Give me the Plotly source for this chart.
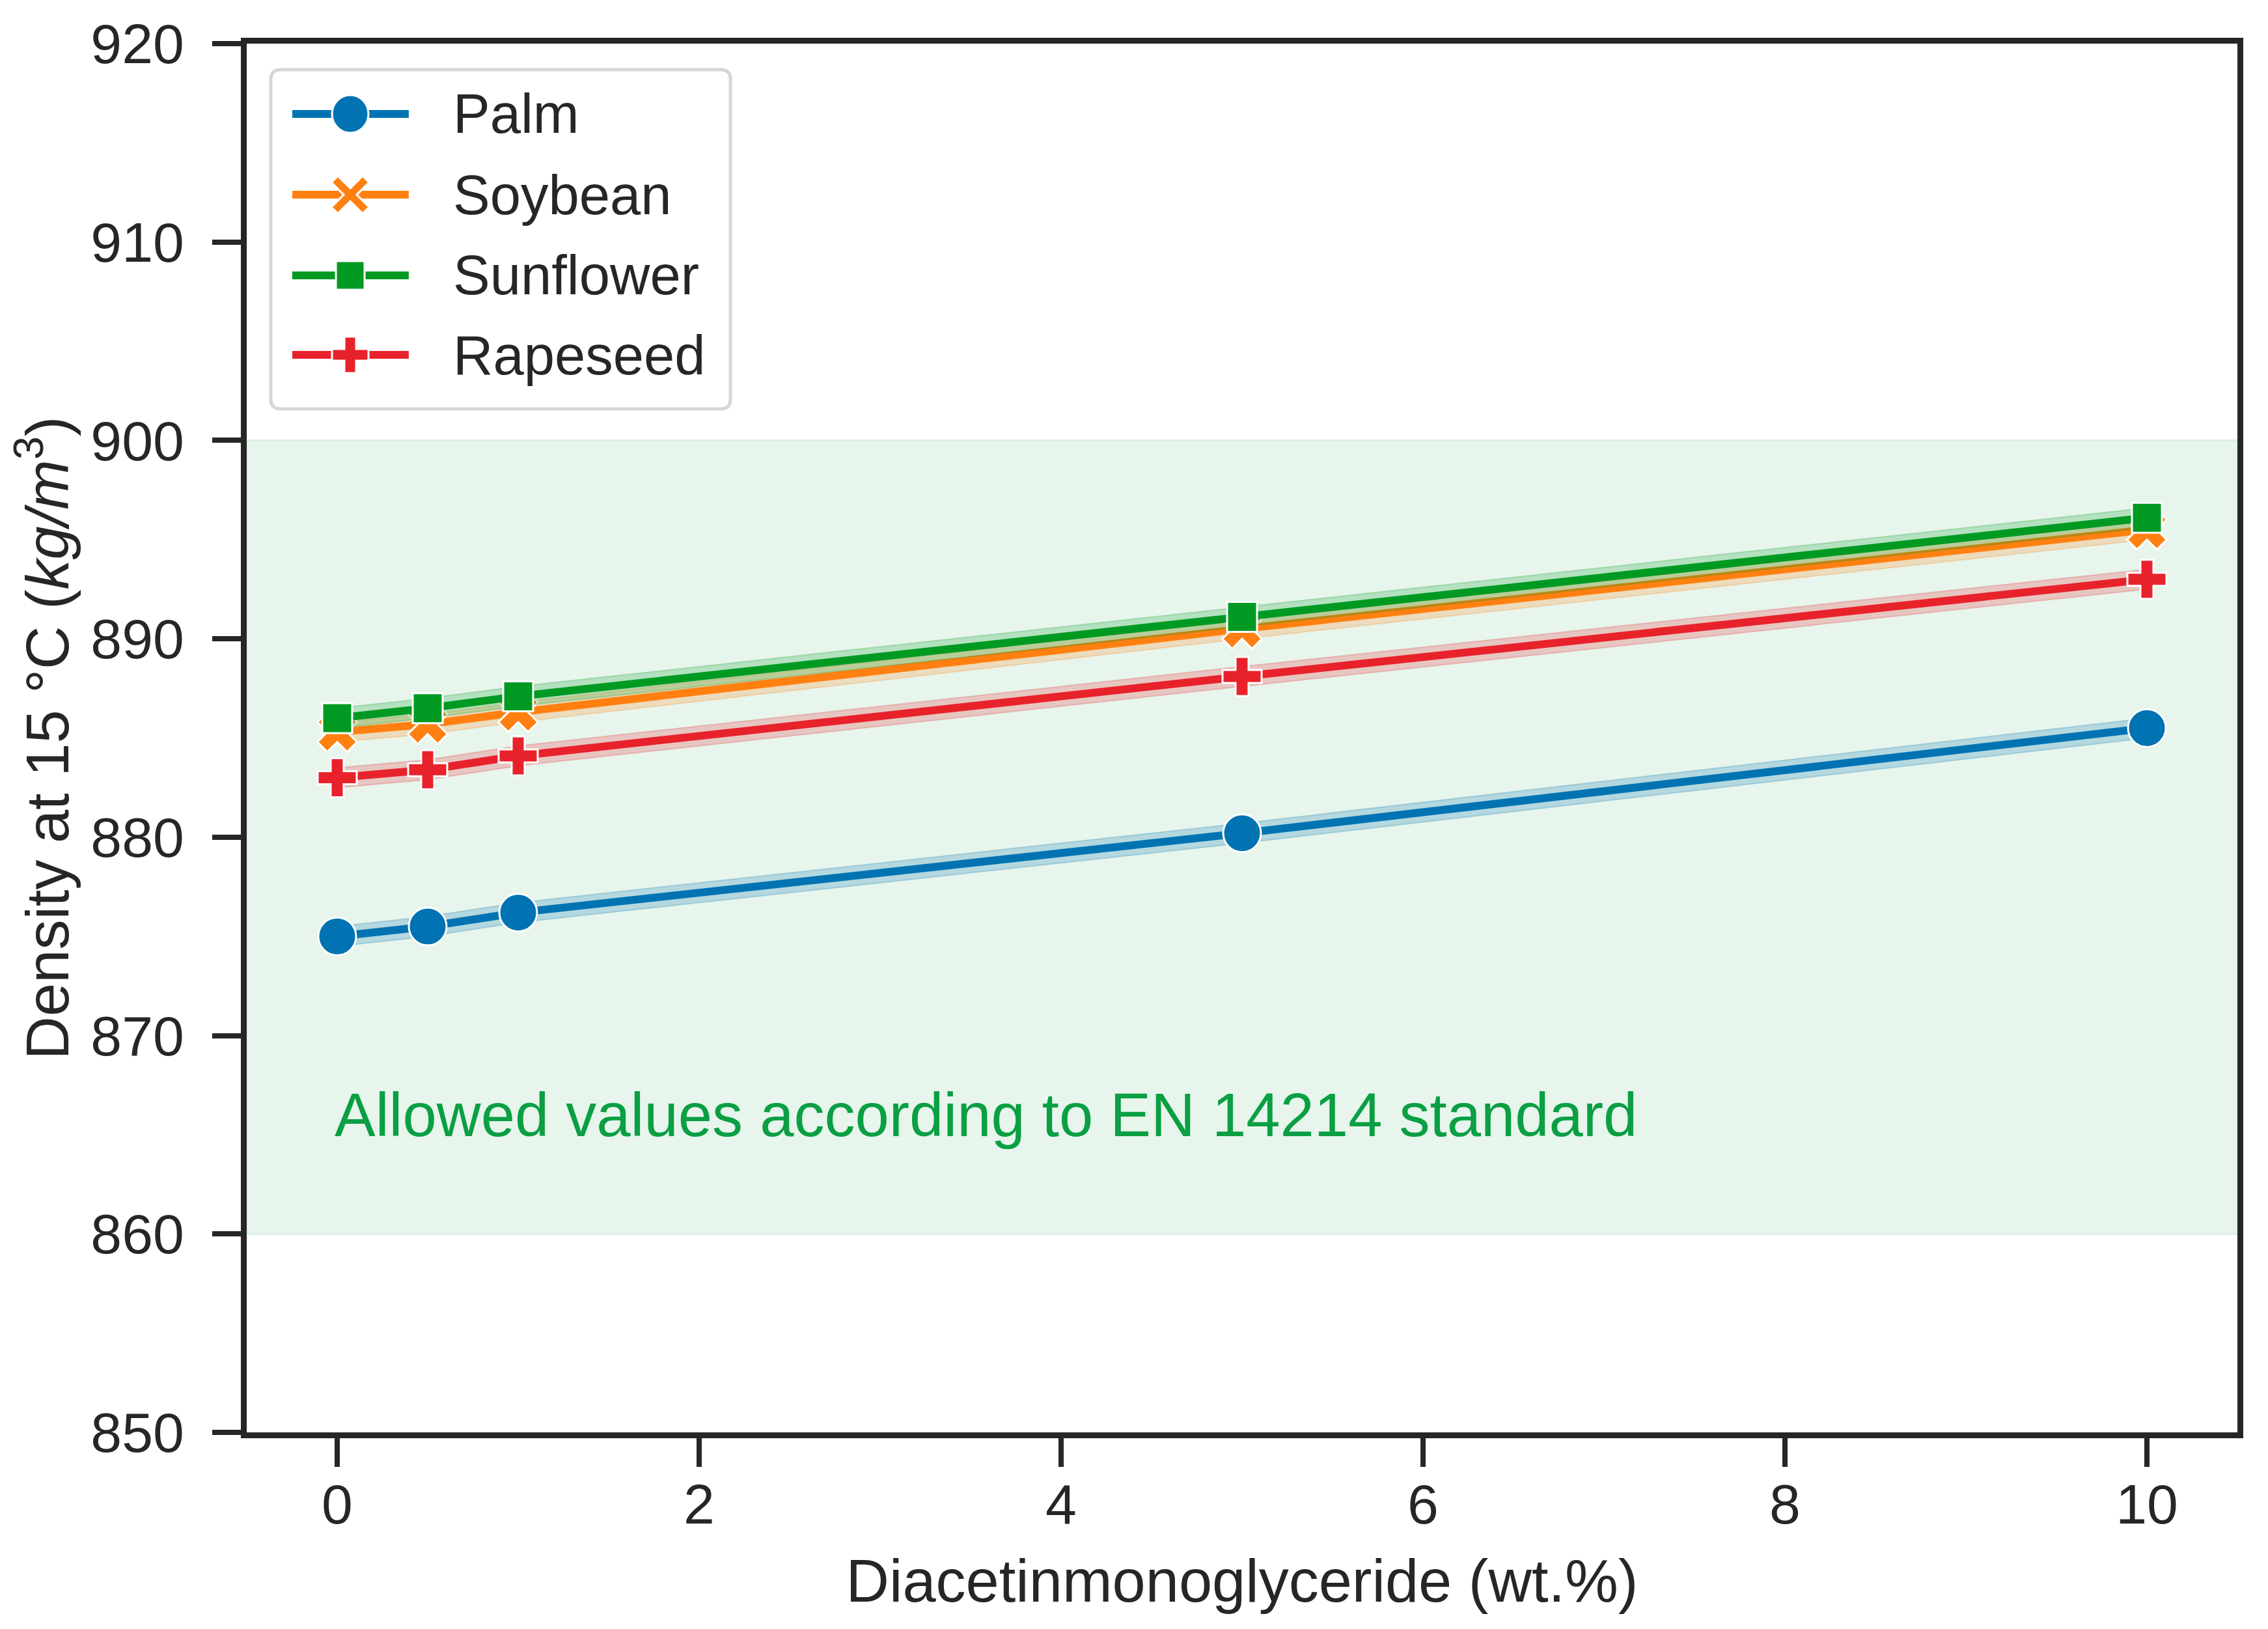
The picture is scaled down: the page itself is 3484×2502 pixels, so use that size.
import plotly.graph_objects as go

# ---------------- data ----------------
x_vals = [0, 0.5, 1, 5, 10]
series_names = ["Palm", "Soybean", "Sunflower", "Rapeseed"]

palm = [875.0, 875.5, 876.2, 880.2, 885.5]
soybean = [885.3, 885.7, 886.3, 890.5, 895.5]
sunflower = [886.0, 886.5, 887.1, 891.1, 896.1]
rapeseed = [883.0, 883.4, 884.1, 888.1, 893.0]

palm_lo = [874.5, 875.0, 875.7, 879.7, 885.0]
palm_hi = [875.5, 876.0, 876.7, 880.7, 886.0]
soybean_lo = [884.8, 885.2, 885.8, 890.0, 895.0]
soybean_hi = [885.8, 886.2, 886.8, 891.0, 896.0]
sunflower_lo = [885.5, 886.0, 886.6, 890.6, 895.6]
sunflower_hi = [886.5, 887.0, 887.6, 891.6, 896.6]
rapeseed_lo = [882.5, 882.9, 883.6, 887.6, 892.5]
rapeseed_hi = [883.5, 883.9, 884.6, 888.6, 893.5]

x_ticks = [0, 2, 4, 6, 8, 10]
y_ticks = [850, 860, 870, 880, 890, 900, 910, 920]
allowed_range = [860, 900]
allowed_text = "Allowed values according to EN 14214 standard"

# ---------------- style ----------------
colors = ["#0173B2", "#FF8011", "#009A22", "#E8222B"]
bands = ["rgba(1,115,178,0.22)", "rgba(255,128,17,0.22)",
         "rgba(0,154,34,0.22)", "rgba(232,34,43,0.22)"]
symbols = ["circle", "x", "square", "cross"]
sizes = [58, 54, 46, 50]
ink = "#262626"
font_family = "Liberation Sans, Arial, Helvetica, sans-serif"

values = [palm, soybean, sunflower, rapeseed]
lows = [palm_lo, soybean_lo, sunflower_lo, rapeseed_lo]
highs = [palm_hi, soybean_hi, sunflower_hi, rapeseed_hi]

fig = go.Figure()

for name, v, lo, hi, c, b, sym, sz in zip(series_names, values, lows, highs,
                                          colors, bands, symbols, sizes):
    fig.add_trace(go.Scatter(x=x_vals, y=lo, mode="lines",
                             line=dict(color=b, width=2),
                             showlegend=False, hoverinfo="skip"))
    fig.add_trace(go.Scatter(x=x_vals, y=hi, mode="lines", fill="tonexty",
                             fillcolor=b, line=dict(color=b, width=2),
                             showlegend=False, hoverinfo="skip"))
    fig.add_trace(go.Scatter(x=x_vals, y=v, mode="lines+markers", name=name,
                             line=dict(color=c, width=12),
                             marker=dict(symbol=sym, size=sz, color=c,
                                         line=dict(color="white", width=3)),
                             showlegend=False))

shapes = []
# allowed band
shapes.append(dict(type="rect", xref="paper", yref="y", x0=0, x1=1,
                   y0=allowed_range[0], y1=allowed_range[1],
                   fillcolor="#E7F5EC", line=dict(color="#DAEFE1", width=3),
                   layer="below"))

# custom legend (box, line samples, marker samples)
lx0, lx1, ly0, ly1 = 0.0121, 0.2430, 0.7370, 0.9812
rx, ry = 0.005, 0.007
box_path = (f"M {lx0+rx},{ly0} L {lx1-rx},{ly0} Q {lx1},{ly0} {lx1},{ly0+ry} "
            f"L {lx1},{ly1-ry} Q {lx1},{ly1} {lx1-rx},{ly1} L {lx0+rx},{ly1} "
            f"Q {lx0},{ly1} {lx0},{ly1-ry} L {lx0},{ly0+ry} Q {lx0},{ly0} {lx0+rx},{ly0} Z")
shapes.append(dict(type="path", xref="paper", yref="paper", path=box_path,
                   fillcolor="white", line=dict(color="#D6D6D6", width=5),
                   layer="above"))

rows = [0.9494, 0.8912, 0.8331, 0.7759]
line_x0, line_x1, mark_x, text_x = 0.0229, 0.0814, 0.0520, 0.1030

x_path = ("M -29,-19 L -19,-29 L 0,-10 L 19,-29 L 29,-19 L 10,0 L 29,19 "
          "L 19,29 L 0,10 L -19,29 L -29,19 L -10,0 Z")
plus_path = ("M -9,-28 L 9,-28 L 9,-9 L 28,-9 L 28,9 L 9,9 L 9,28 L -9,28 "
             "L -9,9 L -28,9 L -28,-9 L -9,-9 Z")

for name, c, sym, ry_ in zip(series_names, colors, symbols, rows):
    shapes.append(dict(type="line", xref="paper", yref="paper",
                       x0=line_x0, x1=line_x1, y0=ry_, y1=ry_,
                       line=dict(color=c, width=12), layer="above"))
    base = dict(xref="paper", yref="paper", xsizemode="pixel", ysizemode="pixel",
                xanchor=mark_x, yanchor=ry_, fillcolor=c,
                line=dict(color="white", width=3), layer="above")
    if sym == "circle":
        shapes.append(dict(type="circle", x0=-28, x1=28, y0=-29, y1=29, **base))
    elif sym == "square":
        shapes.append(dict(type="rect", x0=-22, x1=22, y0=-22, y1=22, **base))
    elif sym == "x":
        shapes.append(dict(type="path", path=x_path, **base))
    else:
        shapes.append(dict(type="path", path=plus_path, **base))

annotations = []
for name, ry_ in zip(series_names, rows):
    annotations.append(dict(x=text_x, y=ry_, xref="paper", yref="paper",
                            text=name, showarrow=False, xanchor="left",
                            yanchor="middle",
                            font=dict(size=85, color=ink, family=font_family)))
annotations.append(dict(x=-0.02, y=866, xref="x", yref="y", text=allowed_text,
                        showarrow=False, xanchor="left", yanchor="middle",
                        font=dict(size=94, color="#0A9F43", family=font_family)))

fig.update_layout(
    width=3484, height=2502,
    margin=dict(l=371, r=55, t=59, b=310),
    paper_bgcolor="white", plot_bgcolor="white",
    font=dict(family=font_family, color=ink),
    showlegend=False,
    shapes=shapes, annotations=annotations,
    xaxis=dict(range=[-0.5, 10.5], tickvals=x_ticks, ticktext=[str(t) for t in x_ticks],
               showgrid=False, zeroline=False, showline=True, linecolor=ink,
               linewidth=9, mirror=True, ticks="outside", ticklen=44, tickwidth=8,
               tickcolor=ink, tickfont=dict(size=86, color=ink),
               ticklabelstandoff=-16,
               title=dict(text="Diacetinmonoglyceride (wt.%)",
                          font=dict(size=92, color=ink), standoff=42)),
    yaxis=dict(range=[850, 920], tickvals=y_ticks, ticktext=[str(t) for t in y_ticks],
               showgrid=False, zeroline=False, showline=True, linecolor=ink,
               linewidth=9, mirror=True, ticks="outside", ticklen=44, tickwidth=8,
               tickcolor=ink, tickfont=dict(size=86, color=ink),
               ticklabelstandoff=26,
               title=dict(text="Density at 15 °C (<i>kg/m</i><sup>3</sup>)",
                          font=dict(size=92, color=ink), standoff=50)),
)

fig.write_html("out.html")
